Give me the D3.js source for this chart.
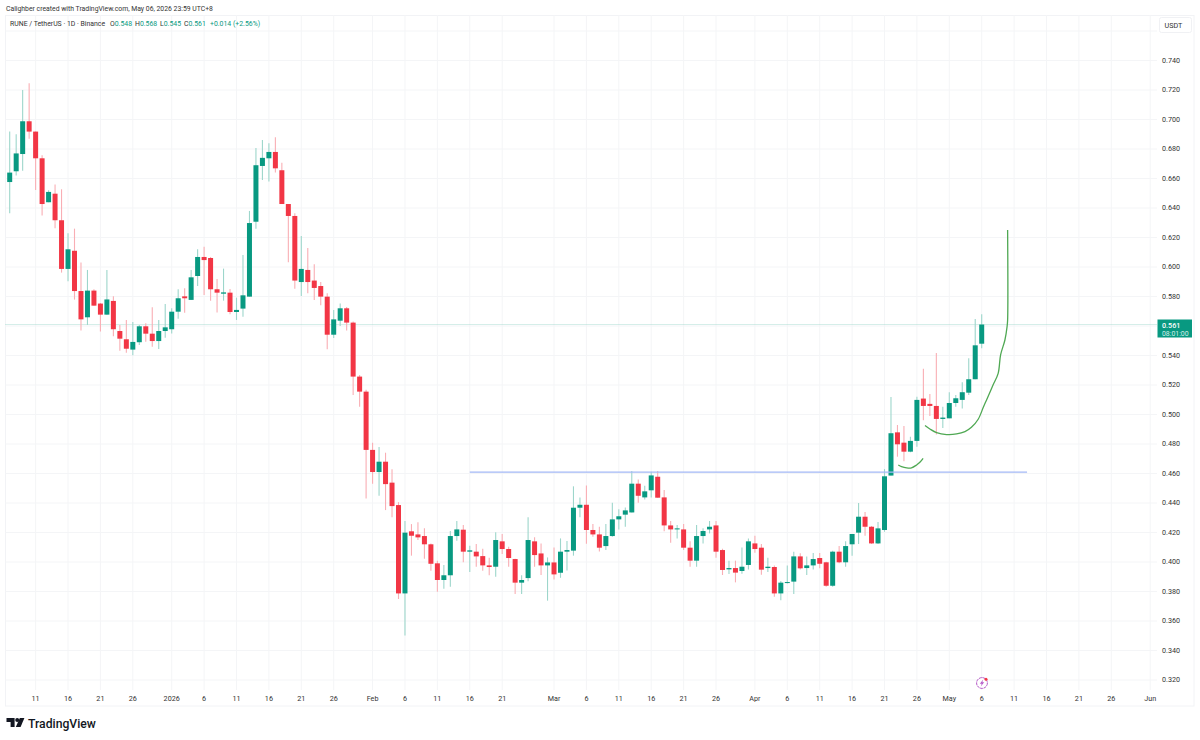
<!DOCTYPE html>
<html>
<head>
<meta charset="utf-8">
<script src="https://cdn.jsdelivr.net/npm/d3@7"></script>
<style>
    html, body { margin: 0; padding: 0; background: #fff; }
    svg { display: block; }
    text { font-family: Roboto, sans-serif; }
</style>
</head>
<body>
<div id="chart"></div>
<script>
// daily candles, 2025-12-07 to 2026-05-06 (one row per month)
const opens = [
    .6576,.6649,.6766,.6988,.6918,.6737,.6439,.6497,.6317,.5987,.611,.5837,.5659,.584,.5752,.5677,.577,.5566,.551,.544,.549,.5598,.5548,.5498,.5566,
    .5578,.5697,.5801,.5777,.5939,.6068,.6061,.5849,.5819,.5826,.5695,.5718,.5799,.6307,.6685,.6737,.678,.6656,.6427,.6346,.5898,.598,.5908,.5871,.5799,.5541,.5636,.572,.5623,.5257,.5155,
    .476,.461,.468,.4538,.4386,.3787,.4208,.4187,.4176,.412,.3991,.3878,.391,.4176,.4219,.407,.407,.404,.3977,.3968,.414,.4088,.402,.386,.3891,.414,.4058,.3977,
    .3997,.3927,.407,.4077,.4368,.4388,.4217,.4187,.4108,.4176,.4289,.4321,.4336,.4531,.4438,.4486,.4578,.4438,.4248,.4221,.4221,.4097,.4009,.4176,.4221,.4248,.4081,.395,.3959,.3939,.398,
    .4126,.4097,.3959,.3966,.3787,.386,.3867,.4038,.3959,.3977,.4027,.3998,.3839,.407,.3998,.412,.4199,.4307,.4239,.4126,.4217,.4586,.4879,.4809,.4748,.4821,.5108,.5072,.5058,.497,
    .4974,.5078,.5099,.5148,.5239,.548
];
const highs = [
    .6918,.69,.72,.7245,.6918,.6757,.652,.656,.6527,.6228,.626,.603,.598,.5849,.5756,.598,.5801,.5607,.564,.5627,.5607,.5618,.5727,.564,.5749,
    .572,.5849,.5856,.598,.612,.6138,.6068,.5919,.5989,.5851,.5792,.6082,.638,.6807,.6861,.6839,.6879,.6707,.6427,.6364,.621,.6129,.6018,.5898,.5822,.5709,.5752,.5729,.563,.5268,.5168,
    .4809,.478,.4741,.4628,.4406,.4278,.4257,.4269,.4228,.4126,.4009,.398,.421,.4278,.4251,.411,.4122,.409,.4029,.4201,.419,.4104,.4022,.391,.4303,.4167,.4126,.4031,
    .4099,.416,.4142,.4513,.4438,.4519,.4257,.4239,.4257,.4402,.4357,.437,.4617,.456,.4517,.4612,.4617,.4488,.4278,.4251,.4257,.414,.4251,.4228,.4278,.4278,.409,.4009,.4009,.4099,.416,
    .4178,.4122,.4029,.3977,.3871,.3977,.407,.4059,.4038,.4061,.4061,.4002,.4077,.4108,.414,.419,.44,.4339,.4244,.4271,.463,.5119,.4929,.4922,.485,.5121,.5311,.5139,.5417,.5053,
    .5151,.5133,.5218,.5381,.5648,.568
];
const lows = [
    .6364,.662,.6653,.687,.6522,.635,.6439,.6262,.5962,.5903,.5779,.5569,.5607,.5738,.5562,.5677,.553,.5433,.5419,.5401,.5471,.5494,.546,.5444,.5521,
    .555,.565,.569,.5777,.5871,.581,.5772,.5691,.5772,.5679,.5641,.5663,.5799,.626,.659,.6579,.664,.6427,.6032,.5853,.5804,.5822,.5776,.574,.5442,.5519,.56,.5569,.5132,.5053,.4431,
    .4531,.445,.4352,.4303,.3749,.3502,.4043,.4149,.4022,.3941,.3799,.3819,.3832,.4144,.3998,.3932,.3968,.3941,.391,.39,.4054,.3968,.3783,.3783,.3869,.3968,.3912,.3738,
    .3882,.3893,.3943,.4043,.4303,.4124,.4171,.4072,.4081,.4171,.4221,.4239,.4336,.4402,.4424,.4438,.4436,.4208,.4131,.416,.4081,.3968,.3968,.4126,.4194,.4029,.3912,.3918,.3862,.3921,.395,
    .4063,.3914,.3932,.3765,.374,.3855,.3783,.395,.3912,.395,.3957,.3833,.3833,.3991,.3968,.4043,.4122,.4178,.4122,.4122,.4205,.4586,.4714,.4683,.4744,.4782,.4961,.499,.4864,.4909,
    .4974,.5053,.504,.5133,.5239,.545
];
const closes = [
    .664,.677,.6988,.6918,.6737,.6427,.6509,.6317,.5987,.612,.5837,.5645,.584,.5738,.5677,.578,.5578,.5514,.5446,.5492,.5598,.5548,.5498,.5566,.5591,
    .5697,.5788,.5788,.593,.6068,.6047,.5849,.5826,.5828,.5695,.5709,.5808,.6298,.669,.674,.678,.6669,.6427,.6346,.5908,.5987,.5898,.5858,.5799,.5541,.5645,.572,.5623,.5257,.5155,.476,
    .461,.468,.4528,.4379,.3787,.4199,.4178,.4167,.412,.3988,.3878,.391,.4176,.4221,.407,.4079,.4038,.3977,.3966,.4149,.4088,.4027,.386,.3878,.4149,.4047,.3977,.3997,
    .3916,.407,.4081,.4368,.4388,.4217,.4187,.4097,.4176,.4289,.431,.435,.4531,.4449,.4479,.4587,.4436,.4248,.4221,.4228,.4097,.4009,.4176,.421,.4239,.407,.3946,.3959,.3928,.3968,.414,
    .4088,.3948,.3968,.3787,.386,.3864,.4038,.3957,.3977,.402,.3988,.3839,.407,.3998,.4108,.419,.4307,.4239,.4126,.4228,.4581,.4873,.4798,.4748,.4821,.5099,.5058,.5058,.497,.4979,
    .5078,.511,.5151,.5239,.5469,.561
];

const timeTicks = ["2025-12-11","2025-12-16","2025-12-21","2025-12-26","2026-01-01","2026-01-06","2026-01-11","2026-01-16","2026-01-21","2026-01-26",
    "2026-02-01","2026-02-06","2026-02-11","2026-02-16","2026-02-21","2026-03-01","2026-03-06","2026-03-11","2026-03-16","2026-03-21","2026-03-26",
    "2026-04-01","2026-04-06","2026-04-11","2026-04-16","2026-04-21","2026-04-26","2026-05-01","2026-05-06","2026-05-11","2026-05-16","2026-05-21","2026-05-26","2026-06-01"];
const timeLabels = ["11","16","21","26","2026","6","11","16","21","26",
    "Feb","6","11","16","21","Mar","6","11","16","21","26",
    "Apr","6","11","16","21","26","May","6","11","16","21","26","Jun"];
const priceTicks = [.76,.74,.72,.70,.68,.66,.64,.62,.60,.58,.56,.54,.52,.50,.48,.46,.44,.42,.40,.38,.36,.34,.32];
const hiddenPriceLabels = [.76, .56]; // .56 sits behind the last price tag

const lastPrice = 0.561;
const levelDates = ["2026-02-16", "2026-05-13"];
const levelPrice = 0.461;

// hand drawn curves: days since first candle, price
const curveOneDays = [137.13,137.65,138.42,139.19,139.96,140.48,140.99];
const curveOnePrices = [.4658,.4647,.4638,.4638,.4658,.4676,.4703];
const curveTwoDays = [141.25,142.02,143.05,144.59,146.13,147.42,148.45,149.48,150.25,150.76,151.79,152.56,152.92,153.59,153.95,154.0,154.0];
const curveTwoPrices = [.4925,.4902,.4877,.4864,.4868,.4884,.4913,.4968,.5049,.5099,.52,.5279,.5404,.5505,.5596,.5640,.6251];

const green = "#089981", red = "#F23645";
const width = 1200, height = 740;
const plotLeft = 5.5, plotRight = 1157;

const parseDay = d3.utcParse("%Y-%m-%d");
const firstDay = parseDay("2025-12-07");
const lastDay = parseDay("2026-05-06");
const dates = d3.utcDay.range(firstDay, d3.utcDay.offset(lastDay, 1));
const candles = dates.map((d, i) => ({date: d, o: opens[i], h: highs[i], l: lows[i], c: closes[i]}));

const x = d3.scaleUtc().domain([firstDay, lastDay]).range([9.7, 981.7]);
const y = d3.scaleLinear().domain([.74, .32]).range([60.5, 680]);

const svg = d3.select("#chart").append("svg")
    .attr("width", width)
    .attr("height", height);

svg.append("rect")
    .attr("x", plotLeft)
    .attr("y", 15.5)
    .attr("width", 1194 - plotLeft)
    .attr("height", 706 - 15.5)
    .attr("fill", "#fff")
    .attr("stroke", "#f2f3f6");

// grid + axes
const timeAxis = d3.axisBottom(x)
    .tickValues(timeTicks.map(parseDay))
    .tickFormat((d, i) => timeLabels[i])
    .tickSize(-675)
    .tickSizeOuter(0)
    .tickPadding(6)
    .offset(0);
const gx = svg.append("g").attr("transform", "translate(0,690)").call(timeAxis);
gx.select(".domain").remove();
gx.selectAll(".tick line").attr("stroke", "#f4f5f7");
gx.selectAll(".tick text")
    .attr("fill", "#333")
    .style("font-size", "7.2px")
    .style("font-family", "Roboto, sans-serif");

const priceAxis = d3.axisRight(y)
    .tickValues(priceTicks)
    .tickFormat(d => hiddenPriceLabels.includes(d) ? "" : d.toFixed(3))
    .tickSize(-(plotRight - plotLeft))
    .tickSizeOuter(0)
    .tickPadding(5)
    .offset(0);
const gy = svg.append("g").attr("transform", `translate(${plotRight},0)`).call(priceAxis);
gy.select(".domain").remove();
gy.selectAll(".tick line").attr("stroke", "#f4f5f7");
gy.selectAll(".tick text")
    .attr("fill", "#333")
    .style("font-size", "7.2px")
    .style("font-family", "Roboto, sans-serif");

// last price line
svg.append("line")
    .attr("x1", plotLeft)
    .attr("x2", plotRight)
    .attr("y1", y(lastPrice))
    .attr("y2", y(lastPrice))
    .attr("stroke", "#a9dcd2")
    .attr("stroke-width", 1)
    .attr("stroke-dasharray", "1 1");

// candles
const candle = svg.append("g").selectAll("g")
    .data(candles)
    .enter()
    .append("g");

candle.append("line")
    .attr("x1", d => x(d.date))
    .attr("x2", d => x(d.date))
    .attr("y1", d => y(d.h))
    .attr("y2", d => y(d.l))
    .attr("stroke", d => d.c >= d.o ? "#9dd6cb" : "#f9aeb4")
    .attr("stroke-width", 1.1);

candle.append("rect")
    .attr("x", d => x(d.date) - 2.5)
    .attr("width", 5)
    .attr("y", d => y(Math.max(d.o, d.c)))
    .attr("height", d => Math.max(1, Math.abs(y(d.o) - y(d.c))))
    .attr("fill", d => d.c >= d.o ? green : red);

// level line
svg.append("line")
    .attr("x1", x(parseDay(levelDates[0])))
    .attr("x2", x(parseDay(levelDates[1])))
    .attr("y1", y(levelPrice))
    .attr("y2", y(levelPrice))
    .attr("stroke", "#a3b8f6")
    .attr("stroke-width", 1.2);

// brush curves
const curve = d3.line()
    .x(d => x(d3.utcHour.offset(firstDay, d[0] * 24)))
    .y(d => y(d[1]))
    .curve(d3.curveCatmullRom);

[[curveOneDays, curveOnePrices], [curveTwoDays, curveTwoPrices]].forEach(c => {
    svg.append("path")
        .attr("d", curve(c[0].map((v, i) => [v, c[1][i]])))
        .attr("fill", "none")
        .attr("stroke", "#4fa853")
        .attr("stroke-width", 1.3);
});

// last price tag
svg.append("rect")
    .attr("x", 1157.5)
    .attr("y", 319.5)
    .attr("width", 34.5)
    .attr("height", 18)
    .attr("fill", green);
svg.append("text")
    .attr("x", 1162)
    .attr("y", 327.5)
    .attr("fill", "#fff")
    .style("font-size", "7.2px")
    .style("font-weight", 500)
    .text(lastPrice.toFixed(3));
svg.append("text")
    .attr("x", 1162)
    .attr("y", 335.5)
    .attr("fill", "#d5efe9")
    .style("font-size", "6.9px")
    .text("08:01:00");

// USDT button
svg.append("rect")
    .attr("x", 1159.5)
    .attr("y", 17.5)
    .attr("width", 32)
    .attr("height", 15)
    .attr("rx", 2)
    .attr("fill", "#fff")
    .attr("stroke", "#f0f1f4");
svg.append("text")
    .attr("x", 1164.5)
    .attr("y", 27.5)
    .attr("fill", "#333")
    .style("font-size", "7.2px")
    .text("USDT");

// header
svg.append("text")
    .attr("x", 6)
    .attr("y", 10.5)
    .attr("fill", "#333")
    .style("font-size", "6.85px")
    .text("Calighber created with TradingView.com, May 06, 2026 23:59 UTC+8");

const legend = svg.append("text")
    .attr("x", 10)
    .attr("y", 26)
    .style("font-size", "6.9px");
legend.append("tspan").attr("fill", "#333").text("RUNE / TetherUS · 1D · Binance");
[["O", "0.548", 110], ["H", "0.568", 135], ["L", "0.545", 160], ["C", "0.561", 184]].forEach(v => {
    legend.append("tspan").attr("x", v[2]).attr("fill", "#333").text(v[0]);
    legend.append("tspan").attr("fill", green).text(v[1]);
});
legend.append("tspan").attr("x", 210).attr("fill", green).text("+0.014 (+2.56%)");

// lightning marker
const marker = svg.append("g").attr("transform", "translate(982,683)");
marker.append("circle")
    .attr("r", 5.4)
    .attr("fill", "#fff")
    .attr("stroke", "#b65ac8")
    .attr("stroke-width", 1)
    .attr("stroke-dasharray", "3 0.6");
marker.append("path")
    .attr("d", "M1.2,-3.4 L-2.2,0.7 L-0.3,0.7 L-1.2,3.4 L2.2,-0.8 L0.3,-0.8 Z")
    .attr("fill", "#b65ac8");
marker.append("circle")
    .attr("cx", 4)
    .attr("cy", -3.7)
    .attr("r", 1.5)
    .attr("fill", "#f23645");

// logo
const logo = svg.append("g").attr("fill", "#131722");
logo.append("path").attr("d", "M6.5,718 H14.6 V727 H10.6 V722 H6.5 Z");
logo.append("circle").attr("cx", 17.2).attr("cy", 720).attr("r", 2);
logo.append("path").attr("d", "M19.8,718 H24.4 L20.6,727 H15.8 Z");
svg.append("text")
    .attr("x", 28)
    .attr("y", 727.5)
    .attr("fill", "#131722")
    .style("font-size", "12.2px")
    .style("font-weight", 500)
    .text("TradingView");
</script>
</body>
</html>
